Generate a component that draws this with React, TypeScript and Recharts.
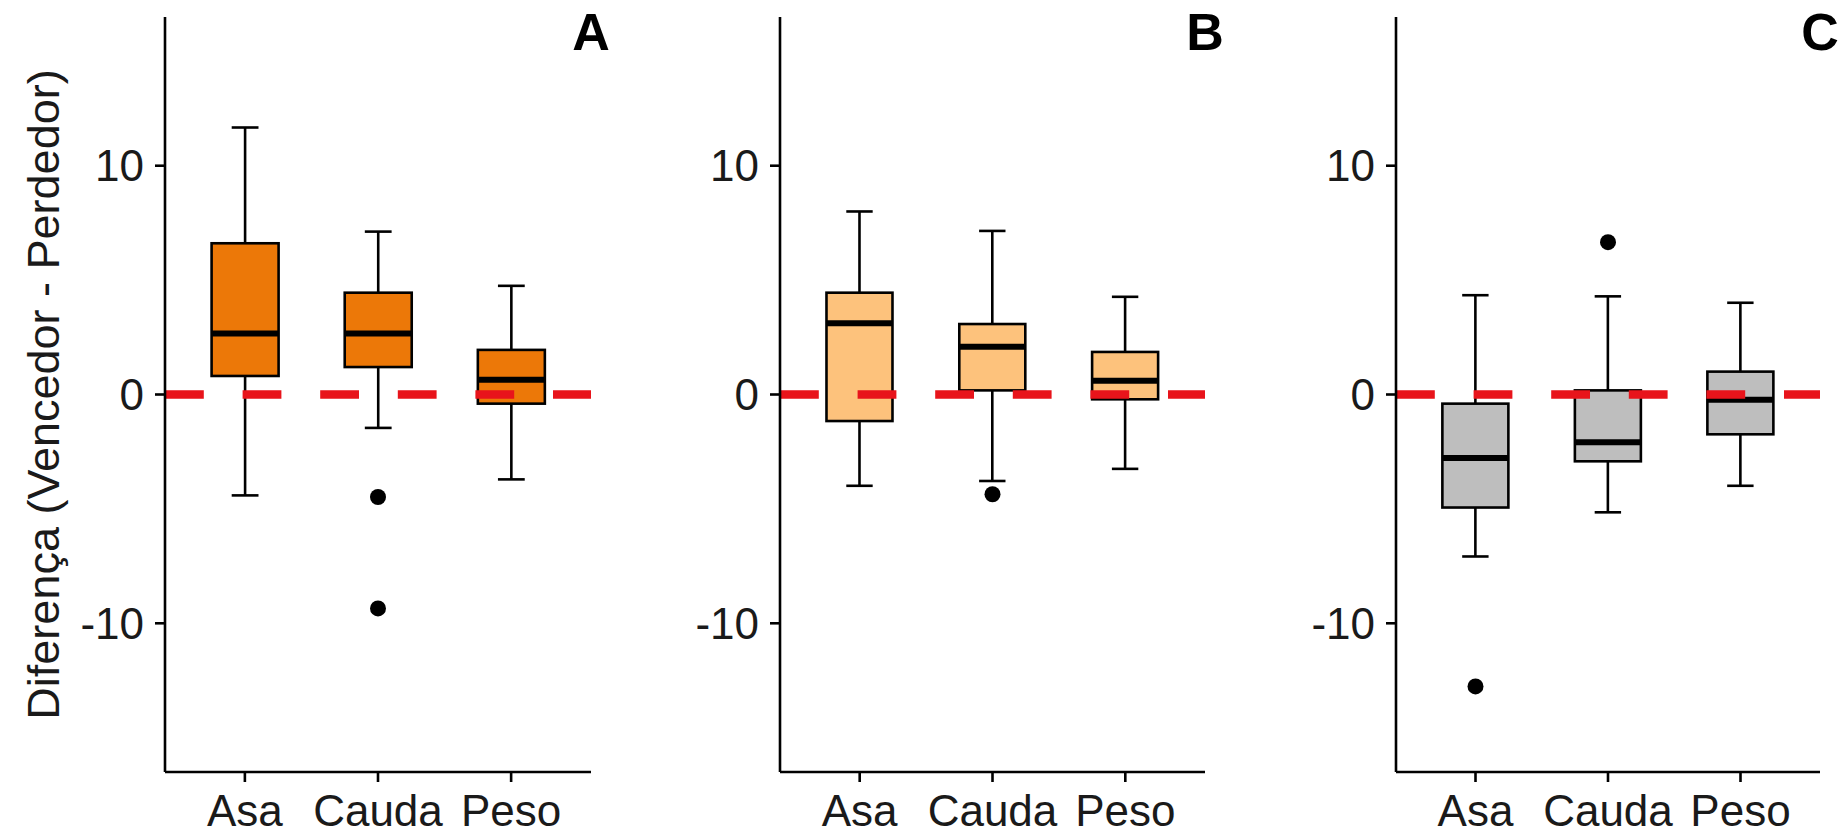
import React from 'react';
import { ComposedChart, Bar, Scatter, XAxis, YAxis, ReferenceLine } from 'recharts';

const categories = ['Asa', 'Cauda', 'Peso'];
const positions = [1, 2, 3];
const yTicks = [-10, 0, 10];
const yLabel = 'Diferença (Vencedor - Perdedor)';

// Panel A
const lowA = [-4.41, -1.46, -3.71];
const q1A = [0.81, 1.2, -0.4];
const medA = [2.67, 2.67, 0.65];
const q3A = [6.61, 4.45, 1.95];
const highA = [11.67, 7.12, 4.75];
const outXA = [2, 2];
const outYA = [-4.48, -9.35];

// Panel B
const lowB = [-3.99, -3.78, -3.25];
const q1B = [-1.16, 0.18, -0.21];
const medB = [3.11, 2.09, 0.6];
const q3B = [4.45, 3.08, 1.86];
const highB = [8.0, 7.15, 4.27];
const outXB = [2];
const outYB = [-4.36];

// Panel C
const lowC = [-7.08, -5.15, -3.99];
const q1C = [-4.94, -2.92, -1.74];
const medC = [-2.78, -2.09, -0.23];
const q3C = [-0.4, 0.18, 1.0];
const highC = [4.34, 4.29, 4.01];
const outXC = [1, 2];
const outYC = [-12.76, 6.66];

const buildRows = (lo: number[], q1: number[], med: number[], q3: number[], hi: number[]) =>
  categories.map((name, i) => ({ x: positions[i], name, lo: lo[i], q1: q1[i], med: med[i], q3: q3[i], hi: hi[i] }));

const buildOutliers = (xs: number[], ys: number[]) => xs.map((x, i) => ({ x, v: ys[i] }));

const FONT = "Arial, 'Liberation Sans', Helvetica, sans-serif";
const TEXT = '#1a1a1a';

const BoxShape = (props: any) => {
  const { x, y, width, height, payload, fill } = props;
  if (x == null || y == null) return null;
  const top = Math.min(y, y + height);
  const h = Math.abs(height);
  const ppu = h / (payload.q3 - payload.q1);
  const py = (v: number) => top + (payload.q3 - v) * ppu;
  const cx = x + width / 2;
  const capHalf = width * 0.2;
  const sw = 2.6;
  return (
    <g>
      <line x1={cx} x2={cx} y1={py(payload.q3)} y2={py(payload.hi)} stroke="#000" strokeWidth={sw} />
      <line x1={cx} x2={cx} y1={py(payload.q1)} y2={py(payload.lo)} stroke="#000" strokeWidth={sw} />
      <line x1={cx - capHalf} x2={cx + capHalf} y1={py(payload.hi)} y2={py(payload.hi)} stroke="#000" strokeWidth={sw} />
      <line x1={cx - capHalf} x2={cx + capHalf} y1={py(payload.lo)} y2={py(payload.lo)} stroke="#000" strokeWidth={sw} />
      <rect x={x} y={top} width={width} height={h} fill={fill} stroke="#000" strokeWidth={sw} />
      <line x1={x} x2={x + width} y1={py(payload.med)} y2={py(payload.med)} stroke="#000" strokeWidth={6} />
    </g>
  );
};

const OutlierShape = (props: any) => {
  const { cx, cy } = props;
  if (cx == null || cy == null) return null;
  return <circle cx={cx} cy={cy} r={8} fill="#000" />;
};

const YLabelContent = (props: any) => {
  const vb = props.viewBox || {};
  const cx = (vb.x || 0) + 43;
  const cy = (vb.y || 0) + (vb.height || 0) / 2;
  return (
    <text
      x={cx}
      y={cy}
      transform={`rotate(-90, ${cx}, ${cy})`}
      textAnchor="middle"
      dominantBaseline="central"
      fontSize={45}
      fontFamily={FONT}
      fill={TEXT}
    >
      {yLabel}
    </text>
  );
};

type PanelProps = {
  left: number;
  width: number;
  yAxisWidth: number;
  marginRight: number;
  rows: any[];
  outliers: any[];
  fill: string;
  tag: string;
  showYLabel: boolean;
};

const Panel = ({ left, width, yAxisWidth, marginRight, rows, outliers, fill, tag, showYLabel }: PanelProps) => {
  const plotRight = left + width - marginRight;
  return (
    <>
      <div style={{ position: 'absolute', left, top: 0, width, height: 835 }}>
        <ComposedChart
          width={width}
          height={835}
          data={rows}
          margin={{ top: 17, right: marginRight, bottom: 3, left: 0 }}
          barCategoryGap="25%"
        >
          <XAxis
            dataKey="x"
            type="number"
            domain={[0.4, 3.6]}
            ticks={positions}
            interval={0}
            tickFormatter={(v: number) => categories[positions.indexOf(v)] ?? ''}
            height={60}
            tickSize={10}
            tickMargin={13}
            axisLine={{ stroke: '#000', strokeWidth: 2.6 }}
            tickLine={{ stroke: '#000', strokeWidth: 2.6 }}
            tick={{ fontSize: 44, fontFamily: FONT, fill: TEXT }}
          />
          <YAxis
            type="number"
            domain={[-16.5, 16.5]}
            ticks={yTicks}
            interval={0}
            width={yAxisWidth}
            tickSize={10}
            tickMargin={11}
            axisLine={{ stroke: '#000', strokeWidth: 2.6 }}
            tickLine={{ stroke: '#000', strokeWidth: 2.6 }}
            tick={{ fontSize: 44, fontFamily: FONT, fill: TEXT }}
            label={showYLabel ? { content: YLabelContent } : undefined}
          />
          <Bar
            dataKey={(d: any) => [d.q1, d.q3]}
            fill={fill}
            shape={BoxShape}
            isAnimationActive={false}
          />
          <Scatter data={outliers} dataKey="v" shape={OutlierShape} isAnimationActive={false} />
          <ReferenceLine y={0} stroke="#E8141B" strokeWidth={8.5} strokeDasharray="38.8 38.8" />
        </ComposedChart>
      </div>
      <div
        style={{
          position: 'absolute',
          left: plotRight - 60,
          top: 2,
          width: 120,
          textAlign: 'center',
          fontFamily: FONT,
          fontWeight: 'bold',
          fontSize: 52,
          lineHeight: '60px',
          color: '#000',
        }}
      >
        {tag}
      </div>
    </>
  );
};

export default function App() {
  return (
    <div style={{ position: 'absolute', left: 0, top: 0, width: 1845, height: 835, background: '#fff', overflow: 'hidden' }}>
      <Panel
        left={0}
        width={620}
        yAxisWidth={165}
        marginRight={29}
        rows={buildRows(lowA, q1A, medA, q3A, highA)}
        outliers={buildOutliers(outXA, outYA)}
        fill="#EC7808"
        tag="A"
        showYLabel
      />
      <Panel
        left={620}
        width={620}
        yAxisWidth={160}
        marginRight={35}
        rows={buildRows(lowB, q1B, medB, q3B, highB)}
        outliers={buildOutliers(outXB, outYB)}
        fill="#FDC27C"
        tag="B"
        showYLabel={false}
      />
      <Panel
        left={1240}
        width={605}
        yAxisWidth={156}
        marginRight={25}
        rows={buildRows(lowC, q1C, medC, q3C, highC)}
        outliers={buildOutliers(outXC, outYC)}
        fill="#BEBEBE"
        tag="C"
        showYLabel={false}
      />
    </div>
  );
}
